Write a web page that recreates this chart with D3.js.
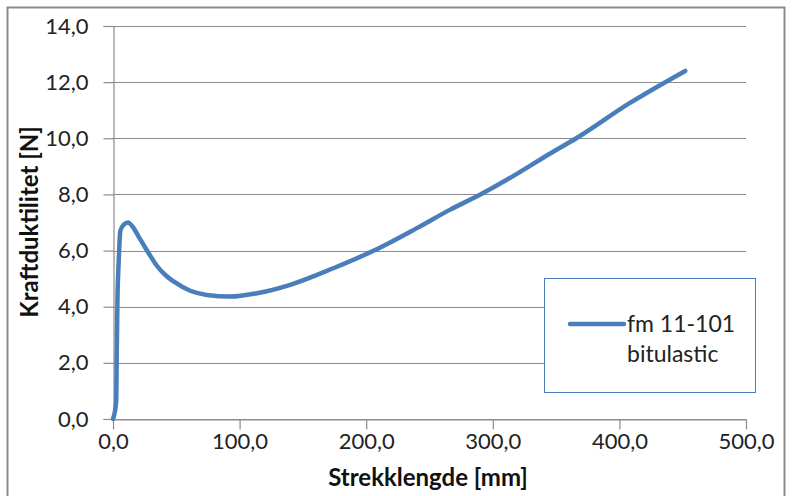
<!DOCTYPE html>
<html>
<head>
  <meta charset="utf-8" />
  <title>Kraftduktilitet</title>
  <script src="https://d3js.org/d3.v7.min.js"></script>
  <style>
    body {
      margin: 0;
      background: #fff;
      font-family: "Lato", "Open Sans", sans-serif;
    }
    .tick text {
      fill: #222;
    }
  </style>
</head>
<body>
  <div id="chart"></div>
  <script>
// values
var strekk = [0, 2.5, 3.0, 3.5, 4.5, 5.8, 8.4, 11.8, 16.3, 20.2, 24.2, 29.5, 34.8, 41.3, 47.9,
  61, 74.2, 92.6, 113.7, 140, 174, 207, 240, 266, 292, 319, 345, 366, 408, 452];
var kraft = [0, 0.6, 2.5, 4.2, 5.6, 6.7, 6.92, 7.0, 6.8, 6.5, 6.2, 5.81, 5.45, 5.13, 4.9,
  4.57, 4.42, 4.36, 4.48, 4.78, 5.37, 6.02, 6.8, 7.45, 8.04, 8.73, 9.45, 10.0, 11.25, 12.4];
var xTicks = [0, 100, 200, 300, 400, 500];
var yTicks = [0, 2, 4, 6, 8, 10, 12, 14];
var seriesName = ["fm 11-101", "bitulastic"];

var width = 792;
var height = 496;
var margin = { top: 26, right: 46, bottom: 77, left: 113 };

var blue = "#4a7ebb";
var grey = "#8c8c8c";
var fmt = function (d) { return d3.format(".1f")(d).replace(".", ","); };

var data = strekk.map(function (d, i) { return { x: d, y: kraft[i] }; });

var x = d3.scaleLinear()
  .domain([0, 500])
  .range([margin.left, width - margin.right]);
var y = d3.scaleLinear()
  .domain([0, 14])
  .range([height - margin.bottom, margin.top]);

var svg = d3.select("#chart").append("svg")
  .attr("width", width)
  .attr("height", height);

// outer frame
svg.append("rect")
  .attr("x", 7.5).attr("y", 7.5)
  .attr("width", 777).attr("height", 500)
  .attr("fill", "none")
  .attr("stroke", grey)
  .attr("stroke-width", 2);

// horizontal gridlines
svg.append("g")
  .selectAll("line")
  .data(yTicks)
  .join("line")
  .attr("x1", margin.left)
  .attr("x2", width - margin.right)
  .attr("y1", function (d) { return Math.round(y(d)) + 0.5; })
  .attr("y2", function (d) { return Math.round(y(d)) + 0.5; })
  .attr("stroke", grey)
  .attr("stroke-width", 1.2);

svg.append("g")
  .attr("transform", "translate(" + (margin.left + 0.5) + ",0)")
  .call(d3.axisLeft(y).tickValues(yTicks).tickFormat(fmt).tickSize(10).tickPadding(15))
  .call(function (g) { g.selectAll("line, path").attr("stroke", grey).attr("stroke-width", 1.2); })
  .call(function (g) { g.selectAll("text").attr("font-size", 22).attr("font-family", "Lato"); });

svg.append("g")
  .attr("transform", "translate(0," + (Math.round(y(0)) + 0.5) + ")")
  .call(d3.axisBottom(x).tickValues(xTicks).tickFormat(fmt).tickSize(10).tickSizeOuter(0).tickPadding(4))
  .call(function (g) { g.selectAll("line, path").attr("stroke", grey).attr("stroke-width", 1.2); })
  .call(function (g) { g.selectAll("text").attr("font-size", 22).attr("font-family", "Lato"); });

// the curve
var line = d3.line()
  .x(function (d) { return x(d.x); })
  .y(function (d) { return y(d.y); })
  .curve(d3.curveMonotoneX);

svg.append("path")
  .datum(data)
  .attr("fill", "none")
  .attr("stroke", blue)
  .attr("stroke-width", 4.5)
  .attr("stroke-linecap", "round")
  .attr("stroke-linejoin", "round")
  .attr("d", line);

// axis titles
svg.append("text")
  .attr("x", 428)
  .attr("y", 486)
  .attr("text-anchor", "middle")
  .attr("font-size", 24)
  .attr("font-weight", "bold")
  .attr("fill", "#111")
  .text("Strekklengde [mm]");

svg.append("text")
  .attr("transform", "translate(38,222) rotate(-90)")
  .attr("text-anchor", "middle")
  .attr("font-size", 24)
  .attr("font-weight", "bold")
  .attr("fill", "#111")
  .text("Kraftduktilitet [N]");

// legend
var legend = svg.append("g");
legend.append("rect")
  .attr("x", 544.5).attr("y", 278.5)
  .attr("width", 211).attr("height", 114)
  .attr("fill", "#fff")
  .attr("stroke", blue)
  .attr("stroke-width", 1);
legend.append("line")
  .attr("x1", 570).attr("x2", 624)
  .attr("y1", 324).attr("y2", 324)
  .attr("stroke", blue)
  .attr("stroke-width", 4.5)
  .attr("stroke-linecap", "round");
legend.append("text")
  .attr("font-size", 23)
  .attr("fill", "#222")
  .selectAll("tspan")
  .data(seriesName)
  .join("tspan")
  .attr("x", 627)
  .attr("y", function (d, i) { return 332 + i * 30; })
  .text(function (d) { return d; });
  </script>
</body>
</html>
